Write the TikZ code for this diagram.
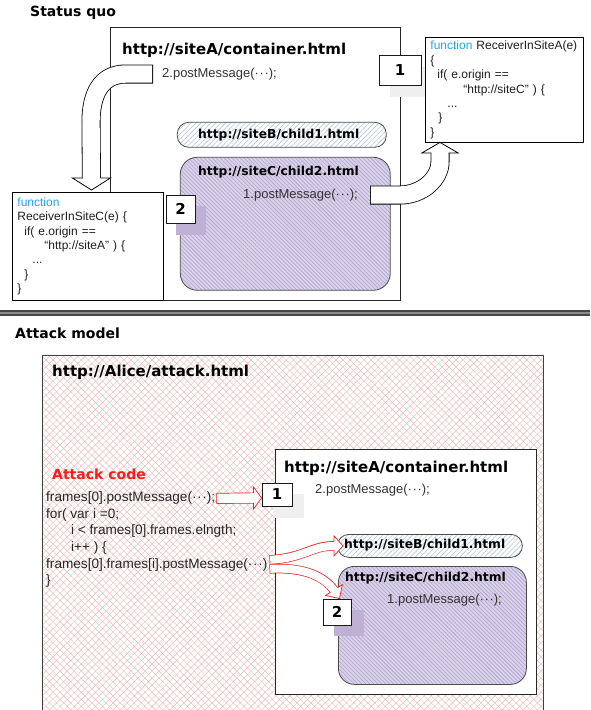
\documentclass[tikz,border=0pt]{standalone}
\usepackage{fontspec}
\setmainfont{Liberation Sans}
\newfontfamily\headfont{DejaVu Sans}
\usetikzlibrary{positioning,calc,patterns.meta}
\definecolor{fnblue}{HTML}{1FA9F0}
\definecolor{lilac}{HTML}{D8D1E8}
\definecolor{lilacline}{HTML}{AFA3CE}
\definecolor{lilacshade}{HTML}{BFB1D4}
\definecolor{skyline}{HTML}{B3C7E2}
\definecolor{pinkline}{HTML}{EDBBBB}
\definecolor{attackred}{HTML}{FF1A1A}
\definecolor{greyshade}{HTML}{EFEFEF}
\newcommand\tridots{\textperiodcentered\kern.6pt\textperiodcentered\kern.6pt\textperiodcentered}

\begin{document}
\begin{tikzpicture}[x=1pt,y=-1pt,every node/.style={inner sep=0pt},
    head/.style={font=\headfont\bfseries\fontsize{14}{16}\selectfont,anchor=west},
    frametitle/.style={font=\headfont\bfseries\fontsize{15}{17}\selectfont,anchor=west},
    pilltitle/.style={font=\headfont\bfseries\fontsize{12.3}{14}\selectfont,anchor=west},
    msg/.style={font=\fontsize{13}{15}\selectfont,text=black!80,anchor=west},
    codeline/.style={font=\fontsize{13.6}{15}\selectfont,text=black!85,anchor=north west,text height=10.5pt,text depth=3pt},
    frame/.style={draw=black!85,line width=0.9pt,fill=white,anchor=north west},
    attackpage/.style={draw=black!75,line width=0.9pt,anchor=north west,preaction={fill=white},pattern={Hatch[angle=45,distance=5pt,line width=0.45pt]},pattern color=pinkline},
    pill/.style={draw=black!70,line width=0.8pt,anchor=north west,rounded corners=11.5pt,preaction={fill=white},pattern={Lines[angle=45,distance=3.5pt,line width=0.6pt]},pattern color=skyline},
    child/.style={draw=black!70,line width=0.8pt,anchor=north west,rounded corners=17pt,preaction={fill=lilac},pattern={Lines[angle=-45,distance=2.8pt,line width=0.55pt]},pattern color=lilacline},
    numbox/.style={draw=black!90,line width=0.9pt,fill=white,font=\headfont\bfseries\fontsize{15}{17}\selectfont},
    funcbox/.style={draw=black,line width=0.9pt,fill=white,anchor=north west,align=left,inner xsep=5pt,font=\fontsize{12}{14.4}\selectfont,text=black!88},
    blockhead/.style={fill=white,draw=black,line width=0.8pt},
    blockcore/.style={draw=white,line width=17.4pt,shorten <=0.8pt,shorten >=-1.2pt,preaction={draw=black,line width=19pt,shorten <=0pt,shorten >=0pt}},
    redhead/.style={fill=white,draw=attackred,line width=0.7pt},
    redcore/.style={draw=white,line width=#1-1.4pt,shorten <=0.7pt,shorten >=-1.2pt,preaction={draw=attackred,line width=#1,shorten <=0pt,shorten >=0pt}},
    redcore/.default=11pt]
    \useasboundingbox (0,0) rectangle (590,710);

    \node[head] (quo) at (30,13) {Status quo};
    \node[frame,minimum width=290,minimum height=273] (contA) at (110,27) {};
    \node[frametitle] (titleA) at (122,50) {http://siteA/container.html};
    \node[msg] (msgA) at (162,74) {2.postMessage(\tridots);};
    \node[pill,minimum width=209,minimum height=25] (pillB) at (177,122) {};
    \node[pilltitle] (titleB) at (198,135) {http://siteB/child1.html};
    \node[child,minimum width=210,minimum height=133] (boxC) at (180,157) {};
    \node[pilltitle] (titleC) at (198,172) {http://siteC/child2.html};
    \node[msg] (msgC) at (243,195) {1.postMessage(\tridots);};

    \node[fill=greyshade,minimum width=42,minimum height=30] (oneshade) at (411,82) {};
    \node[fill=lilacshade,minimum width=30,minimum height=29] (twoshade) at (191,220) {};
    \node[funcbox,text width=148,minimum height=105] (funcA) at (425,37) {{\color{fnblue}function} ReceiverInSiteA(e)\\
        \{\\
        \hspace*{7pt}if( e.origin ==\\
        \hspace*{33pt}“http://siteC” ) \{\\
        \hspace*{17pt}...\\
        \hspace*{8pt}\}\\
        \}};
    \node[funcbox,text width=141,minimum height=108] (funcC) at (12,192) {{\color{fnblue}function}\\
        ReceiverInSiteC(e) \{\\
        \hspace*{7pt}if( e.origin ==\\
        \hspace*{27pt}“http://siteA” ) \{\\
        \hspace*{15pt}...\\
        \hspace*{7pt}\}\\
        \}};
    \node[numbox,minimum width=42,minimum height=30] (one) at (400,70) {1};
    \node[numbox,minimum width=29,minimum height=28] (two) at (180.5,209) {2};

    \coordinate (outA) at ($(msgA.west)+(-9,0)$);
    \coordinate (baseC) at ($(funcC.north)+(3.5,-14)$);
    \filldraw[blockhead] ($(baseC)+(-19,0)$) -- ($(baseC)+(19,0)$) -- ($(baseC)+(0,12)$) -- cycle;
    \draw[blockcore] (outA) -- (126,74) .. controls (101,74) and (91,94) .. (91,122) -- (baseC);
    \coordinate (outC) at ($(msgC.east)+(12,0)$);
    \coordinate (baseA) at ($(funcA.south west)+(15,10)$);
    \filldraw[blockhead] ($(baseA)+(-18,0)$) -- ($(baseA)+(18,0)$) -- ($(baseA)+(0,-10.5)$) -- cycle;
    \draw[blockcore] (outC) -- (400,195) .. controls (423,195) and (440,178) .. (440,162) -- (baseA);

    \draw[line width=6pt,black!72] (0,313) -- (590,313);
    \draw[line width=1.2pt,black!45] (0,313) -- (590,313);

    \node[head] (attackhead) at (15,333) {Attack model};
    \node[attackpage,minimum width=501,minimum height=362] (alice) at (42,355) {};
    \node[frametitle] (titleAlice) at (52,372) {http://Alice/attack.html};
    \node[head,text=attackred] (attackcode) at (52,474) {Attack code};
    \node[codeline] (call0) at (46,491) {frames[0].postMessage(\tridots);};
    \node[codeline,below=2.7pt of call0.south west,anchor=north west] (loop1) {for( var i =0;};
    \node[codeline,below=2.7pt of loop1.south west,anchor=north west] (loop2) {\hspace*{25pt}i < frames[0].frames.elngth;};
    \node[codeline,below=2.7pt of loop2.south west,anchor=north west] (loop3) {\hspace*{25pt}i++ ) \{};
    \node[codeline,below=2.7pt of loop3.south west,anchor=north west] (calli) {frames[0].frames[i].postMessage(\tridots)};
    \node[codeline,below=2.7pt of calli.south west,anchor=north west] (loopend) {\}};

    \node[frame,minimum width=261,minimum height=245] (contA2) at (275,449) {};
    \node[frametitle] (titleA2) at (284,468) {http://siteA/container.html};
    \node[msg] (msgA2) at (315,490) {2.postMessage(\tridots);};
    \node[pill,minimum width=185,minimum height=23] (pillB2) at (337,534) {};
    \node[pilltitle] (titleB2) at (344,545.5) {http://siteB/child1.html};
    \node[child,minimum width=188,minimum height=118,rounded corners=16pt] (boxC2) at (338,566) {};
    \node[pilltitle] (titleC2) at (345,578) {http://siteC/child2.html};
    \node[msg] (msgC2) at (387,600) {1.postMessage(\tridots);};
    \node[fill=greyshade,minimum width=31,minimum height=24] (oneshade2) at (288,505.5) {};
    \node[fill=lilacshade,minimum width=30,minimum height=26] (twoshade2) at (349,623) {};
    \node[numbox,minimum width=30,minimum height=23] (one2) at (277,494.5) {1};
    \node[numbox,minimum width=28,minimum height=26] (two2) at (337,612) {2};

    \coordinate (out1) at ($(call0.east)+(1,0.5)$);
    \coordinate (tip1) at ($(one2.west)+(0,3.5)$);
    \coordinate (base1) at ($(tip1)+(-8,0)$);
    \filldraw[redhead] ($(base1)!11pt!90:(tip1)$) -- (tip1) -- ($(base1)!11pt!-90:(tip1)$) -- cycle;
    \draw[redcore] (out1) -- (base1);
    \coordinate (forkB) at ($(calli.east)+(2,-4.5)$);
    \coordinate (tipB) at ($(pillB2.west)+(6,0)$);
    \coordinate (baseB) at ($(tipB)+(-9,0)$);
    \filldraw[redhead] ($(baseB)!10pt!90:(tipB)$) -- (tipB) -- ($(baseB)!10pt!-90:(tipB)$) -- cycle;
    \draw[redcore=9.5pt] (forkB) .. controls (304,558) and (312,545.5) .. (baseB);
    \coordinate (forkC) at ($(calli.east)+(2,4.5)$);
    \coordinate (tipC) at ($(two2.north east)+(-12,0)$);
    \coordinate (baseC2) at ($(tipC)+(-5.5,-8.5)$);
    \filldraw[redhead] ($(baseC2)!10pt!90:(tipC)$) -- (tipC) -- ($(baseC2)!10pt!-90:(tipC)$) -- cycle;
    \draw[redcore=9.5pt] (forkC) .. controls (306,567) and (324,577) .. (baseC2);
\end{tikzpicture}
\end{document}
